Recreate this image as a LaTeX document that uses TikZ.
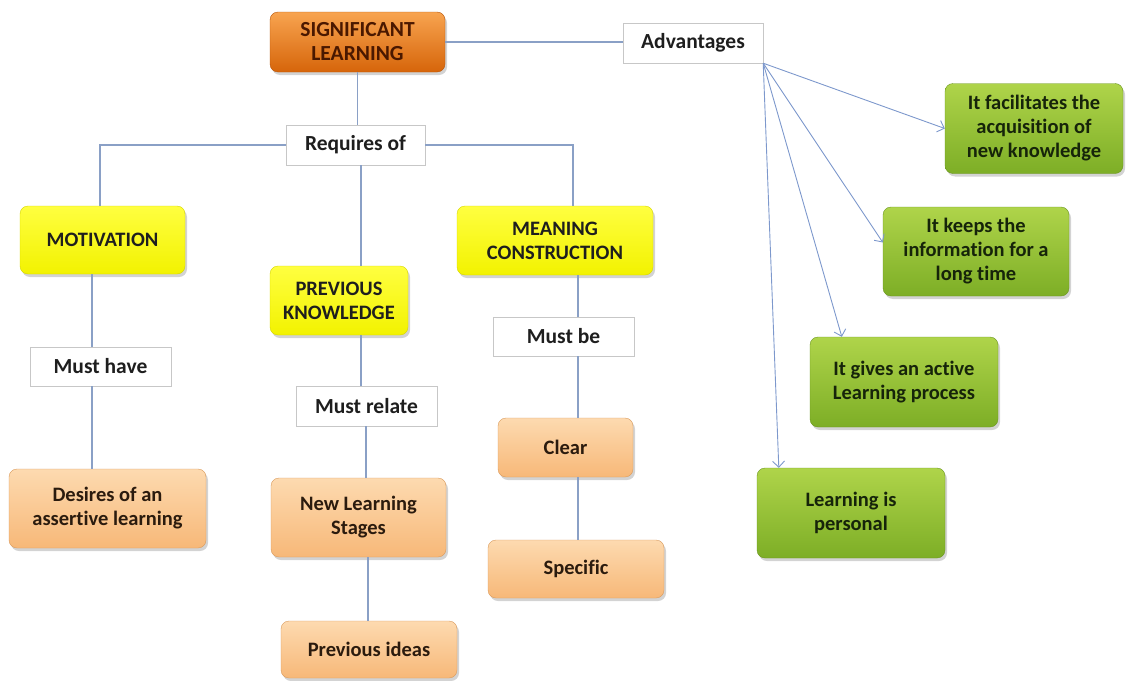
\documentclass[tikz,border=0pt]{standalone}
\usepackage{fontspec}
\setmainfont{Carlito}[Ligatures=NoCommon]
\usetikzlibrary{shadows,arrows.meta}
\definecolor{ln}{HTML}{8AA0C6}
\definecolor{arc}{HTML}{7D98CC}
\definecolor{orT}{HTML}{F8A450}
\definecolor{orB}{HTML}{D6650A}
\definecolor{orD}{HTML}{B8560A}
\definecolor{yeT}{HTML}{FFFF40}
\definecolor{yeB}{HTML}{F2F200}
\definecolor{yeD}{HTML}{D6D600}
\definecolor{peT}{HTML}{FDDAB0}
\definecolor{peB}{HTML}{F7B878}
\definecolor{peD}{HTML}{D99A5C}
\definecolor{grT}{HTML}{AFD44A}
\definecolor{grB}{HTML}{7DAE26}
\definecolor{grD}{HTML}{6A9520}
\definecolor{txt}{HTML}{1E1E1E}
\definecolor{gtxt}{HTML}{16240A}
\definecolor{otxt}{HTML}{4A1800}
\definecolor{ptxt}{HTML}{2B1B0E}
\begin{document}
\begin{tikzpicture}[x=1pt,y=-1pt,
  base/.style={align=center, inner sep=2pt, text=txt},
  wbox/.style={base, draw=black!22, fill=white, font=\bfseries\fontsize{21.5}{25}\selectfont},
  cbox/.style={base, rounded corners=8pt, draw=#1D, top color=#1T, bottom color=#1B,
     font=\bfseries\fontsize{20.5}{24}\selectfont,
     drop shadow={shadow xshift=2pt, shadow yshift=-3pt, opacity=0.35}},
  conn/.style={draw=ln, line width=1.1pt},
  arw/.style={draw=arc, line width=0.9pt, -{Straight Barb[length=6pt,width=12pt]}},
]
\useasboundingbox (0,0) rectangle (1126,680);

% top level
\node[cbox=or, minimum width=175pt, minimum height=60pt, text=otxt, font=\bfseries\fontsize{21.5}{24}\selectfont] (sl) at (357.5,42) {SIGNIFICANT\\LEARNING};
\node[wbox, minimum width=140pt, minimum height=40pt] (adv) at (693,43) {Advantages};
\node[wbox, minimum width=139pt, minimum height=40pt] (req) at (355.5,145) {Requires of};

% yellow level
\node[cbox=ye, minimum width=165pt, minimum height=68pt] (mot) at (102.5,240) {MOTIVATION};
\node[cbox=ye, minimum width=138pt, minimum height=69pt] (pk) at (339,300.5) {PREVIOUS\\KNOWLEDGE};
\node[cbox=ye, minimum width=196pt, minimum height=69pt] (mc) at (555,240.5) {MEANING\\CONSTRUCTION};

% relation labels
\node[wbox, minimum width=141pt, minimum height=39pt] (mh) at (100.5,366.5) {Must have};
\node[wbox, minimum width=141pt, minimum height=40pt] (mr) at (366.5,406) {Must relate};
\node[wbox, minimum width=141pt, minimum height=39pt] (mb) at (563.5,336.5) {Must be};

% peach leaves
\node[cbox=pe, text=ptxt, minimum width=197pt, minimum height=79pt] (des) at (107.5,508.5) {Desires of an\\assertive learning};
\node[cbox=pe, text=ptxt, minimum width=175pt, minimum height=79pt] (nls) at (358.5,517.5) {New Learning\\Stages};
\node[cbox=pe, text=ptxt, minimum width=176pt, minimum height=57pt] (pi) at (369,649.5) {Previous ideas};
\node[cbox=pe, text=ptxt, minimum width=135pt, minimum height=59pt] (cl) at (565.5,447.5) {Clear};
\node[cbox=pe, text=ptxt, minimum width=176pt, minimum height=58pt] (sp) at (576,569) {Specific};

% green advantages
\node[cbox=gr, text=gtxt, minimum width=178pt, minimum height=90pt] (g1) at (1034,128.5) {It facilitates the\\acquisition of\\new knowledge};
\node[cbox=gr, text=gtxt, minimum width=186pt, minimum height=89pt] (g2) at (976,251.5) {It keeps the\\information for a\\long time};
\node[cbox=gr, text=gtxt, minimum width=188pt, minimum height=90pt] (g3) at (904,382) {It gives an active\\Learning process};
\node[cbox=gr, text=gtxt, minimum width=188pt, minimum height=90pt] (g4) at (851,513) {Learning is\\personal};

% line columns
\coordinate (c1) at (92,0);
\coordinate (c2) at (361,0);
\coordinate (c3) at (366,0);
\coordinate (c3b) at (368,0);
\coordinate (c4) at (578,0);
\coordinate (c5) at (573,0);
\coordinate (c6) at (100,0);

% connectors
\draw[conn] (sl.east) -- (sl.east -| adv.west);
\draw[conn] (sl.south) -- (sl.south |- req.north);
\draw[conn] (req.west) -| (c6 |- mot.north);
\draw[conn] (req.east) -| (c5 |- mc.north);
\draw[conn] (req.south -| c2) -- (pk.north -| c2);
\draw[conn] (pk.south -| c2) -- (mr.north -| c2);
\draw[conn] (mr.south -| c3) -- (nls.north -| c3);
\draw[conn] (nls.south -| c3b) -- (pi.north -| c3b);
\draw[conn] (mot.south -| c1) -- (mh.north -| c1);
\draw[conn] (mh.south -| c1) -- (des.north -| c1);
\draw[conn] (mc.south -| c4) -- (mb.north -| c4);
\draw[conn] (mb.south -| c4) -- (cl.north -| c4);
\draw[conn] (cl.south -| c4) -- (sp.north -| c4);

% arrows
\draw[arw] (adv.south east) -- (g1.west);
\draw[arw] (adv.south east) -- ([yshift=9pt]g2.west);
\draw[arw] (adv.south east) -- ([xshift=32pt]g3.north west);
\draw[arw] (adv.south east) -- ([xshift=22pt]g4.north west);
\end{tikzpicture}
\end{document}
